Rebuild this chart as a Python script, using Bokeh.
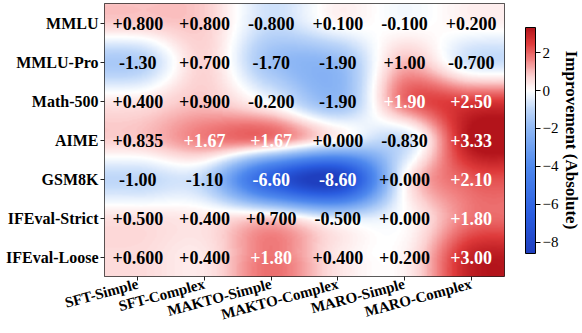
import math
import numpy as np
from bokeh.plotting import figure
from bokeh.models import (ColumnDataSource, LinearColorMapper, ColorBar, FixedTicker,
                          Range1d, Title)
from bokeh.core.properties import value
from bokeh.embed import file_html
from bokeh.resources import INLINE

# ---------------- data ----------------
methods = ["SFT-Simple", "SFT-Complex", "MAKTO-Simple", "MAKTO-Complex", "MARO-Simple", "MARO-Complex"]
benchmarks = ["MMLU", "MMLU-Pro", "Math-500", "AIME", "GSM8K", "IFEval-Strict", "IFEval-Loose"]
mmlu = [0.8, 0.8, -0.8, 0.1, -0.1, 0.2]
mmlu_pro = [-1.3, 0.7, -1.7, -1.9, 1.0, -0.7]
math500 = [0.4, 0.9, -0.2, -1.9, 1.9, 2.5]
aime = [0.835, 1.67, 1.67, 0.0, -0.83, 3.33]
gsm8k = [-1.0, -1.1, -6.6, -8.6, 0.0, 2.1]
ifeval_strict = [0.5, 0.4, 0.7, -0.5, 0.0, 1.8]
ifeval_loose = [0.6, 0.4, 1.8, 0.4, 0.2, 3.0]
cbar_ticks = [-8, -6, -4, -2, 0, 2]
cbar_title = "Improvement (Absolute)"

M = np.array([mmlu, mmlu_pro, math500, aime, gsm8k, ifeval_strict, ifeval_loose], dtype=float)
nr, nc = M.shape
vmin, vmax = float(M.min()), float(M.max())

# ---------------- bicubic (Catmull-Rom) display smoothing ----------------
def keys(t, a=-0.5):
    t = np.abs(t)
    return np.where(t <= 1, (a + 2) * t**3 - (a + 3) * t**2 + 1,
                    np.where(t < 2, a * t**3 - 5 * a * t**2 + 8 * a * t - 4 * a, 0.0))

def upsample_axis(arr, n, S, axis):
    pos = -0.5 + (np.arange(n * S) + 0.5) / S
    i0 = np.floor(pos).astype(int)
    t = pos - i0
    out = 0
    for k in (-1, 0, 1, 2):
        idx = np.clip(i0 + k, 0, n - 1)
        w = keys(t - k)
        if axis == 1:
            out = out + arr[:, idx] * w[None, :]
        else:
            out = out + arr[idx, :] * w[:, None]
    return out

S = 40
up = upsample_axis(M, nc, S, 1)
up = upsample_axis(up, nr, S, 0)
img = up[::-1].copy()

# ---------------- colour map (white at 0) ----------------
stops_v = [vmin, -6.6, -4.0, -2.0, -1.0, 0.0, 0.8, 1.67, 2.5, vmax]
stops_c = ["#1f3fbf", "#2a5de0", "#4f89ee", "#8fb8f5", "#bdd6f9", "#ffffff",
           "#fcd0d0", "#f18080", "#df3b3b", "#b3141b"]
def hex2rgb(h):
    return [int(h[i:i + 2], 16) for i in (1, 3, 5)]
rgb = np.array([hex2rgb(c) for c in stops_c], dtype=float)
grid = np.linspace(vmin, vmax, 256)
palette = []
for g in grid:
    r, gg, b = (np.interp(g, stops_v, rgb[:, j]) for j in range(3))
    palette.append("#%02x%02x%02x" % (int(round(r)), int(round(gg)), int(round(b))))
mapper = LinearColorMapper(palette=palette, low=vmin, high=vmax,
                           low_color=palette[0], high_color=palette[-1])

# ---------------- figure ----------------
p = figure(width=582, height=333, output_backend="svg", toolbar_location=None,
           x_range=Range1d(-0.5, nc - 0.5), y_range=Range1d(-0.5, nr - 0.5),
           min_border_left=104, min_border_right=74, min_border_top=3, min_border_bottom=0)
p.image(image=[img], x=-0.5, y=-0.5, dw=nc, dh=nr, color_mapper=mapper)

xs, ys, labels, tcols = [], [], [], []
for i in range(nr):
    for j in range(nc):
        v = M[i, j]
        xs.append(j)
        ys.append(nr - 1 - i)
        labels.append(f"{v:+.3f}" if abs(v) < 1 else f"{v:+.2f}")
        tcols.append("white" if (v > 0.5 * vmax or v < 0.5 * vmin) else "black")
src = ColumnDataSource(dict(x=xs, y=ys, label=labels, tc=tcols))
p.text(x="x", y="y", text="label", source=src, text_align="center", text_baseline="middle",
       text_font=value("Liberation Serif"), text_font_style="bold", text_font_size="18px",
       text_color="tc")

p.xgrid.visible = False
p.ygrid.visible = False
p.outline_line_color = "#222222"
p.outline_line_width = 1

p.xaxis.ticker = FixedTicker(ticks=list(range(nc)))
p.xaxis.major_label_overrides = {j: m for j, m in enumerate(methods)}
p.xaxis.major_label_orientation = math.radians(15)
p.yaxis.ticker = FixedTicker(ticks=list(range(nr)))
p.yaxis.major_label_overrides = {nr - 1 - i: b for i, b in enumerate(benchmarks)}
for ax in (p.xaxis, p.yaxis):
    ax.axis_line_color = None
    ax.major_tick_in = 0
    ax.major_tick_out = 4
    ax.minor_tick_line_color = None
    ax.major_tick_line_color = "#222222"
    ax.major_label_text_font = "Liberation Serif"
    ax.major_label_text_font_style = "bold"
    ax.major_label_text_font_size = "16px"
    ax.major_label_text_color = "black"
    ax.major_label_standoff = 2
p.xaxis.major_label_text_font_size = "15px"
p.xaxis.major_label_text_line_height = 0.8
p.xaxis.major_label_standoff = 3

cb = ColorBar(color_mapper=mapper, width=10, height=226, location=(21, 23),
              ticker=FixedTicker(ticks=cbar_ticks),
              major_label_overrides={t: (("\u2212" + str(-t)) if t < 0 else str(t)) for t in cbar_ticks},
              major_label_text_font="Liberation Serif", major_label_text_font_size="15px",
              major_label_text_color="black",
              major_tick_in=0, major_tick_out=5, major_tick_line_color="black",
              minor_tick_line_color=None, bar_line_color="black", bar_line_width=1,
              background_fill_alpha=0, border_line_color=None,
              padding=0, margin=0, label_standoff=2)
p.add_layout(cb, "right")
p.add_layout(Title(text=cbar_title, align="center", standoff=0, offset=0,
                   text_font="Liberation Serif", text_font_style="bold",
                   text_font_size="17px", text_color="black"), "right")

open("out.html", "w").write(file_html(p, INLINE))
